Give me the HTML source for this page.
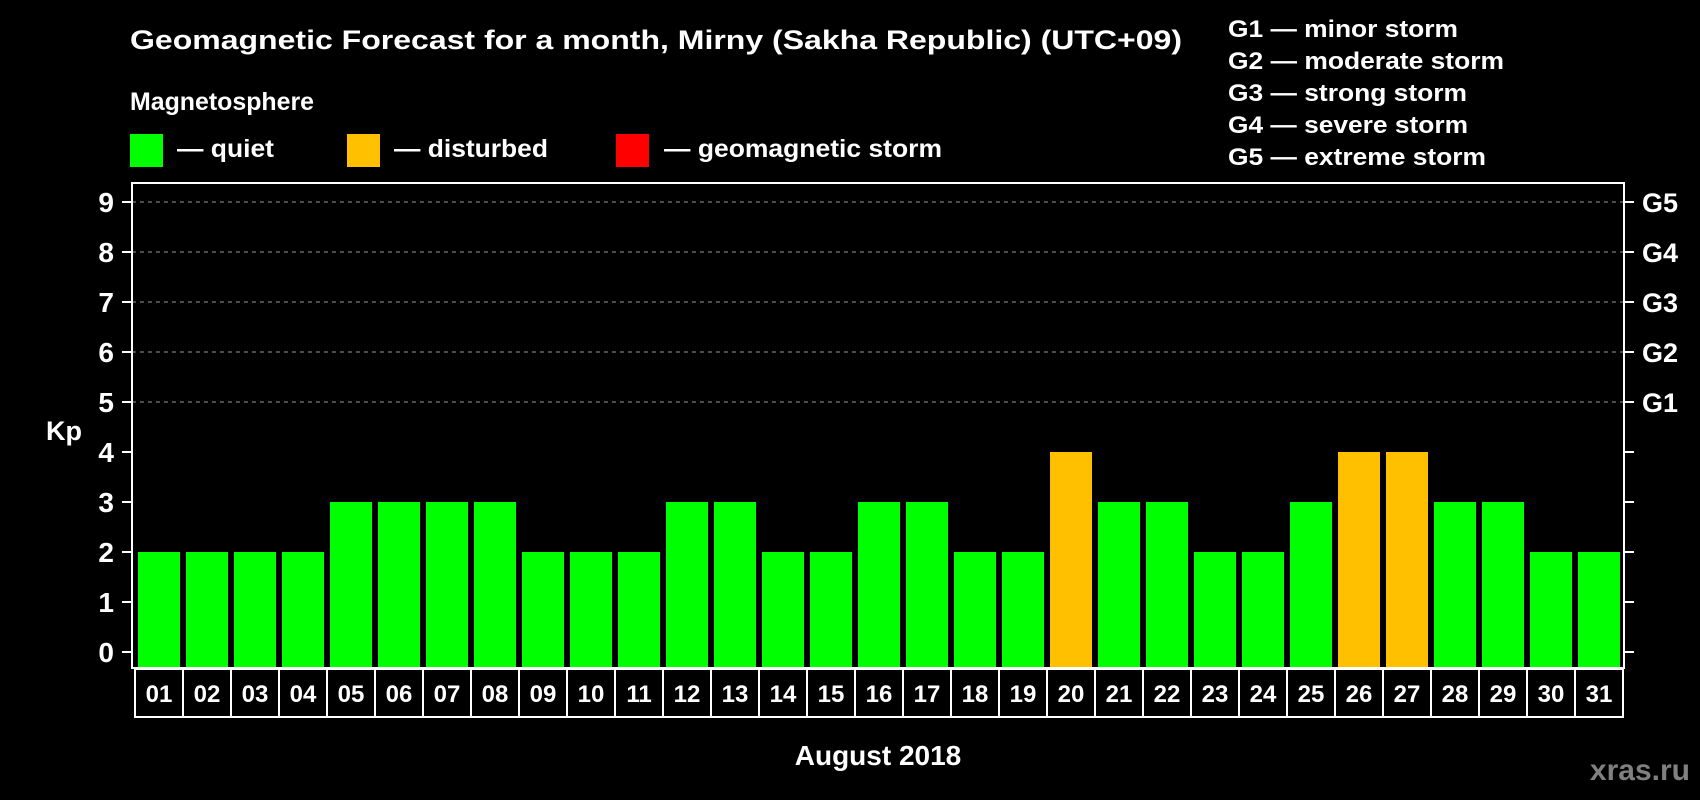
<!DOCTYPE html>
<html><head><meta charset="utf-8"><style>
html,body{margin:0;padding:0;background:#000;}
svg{display:block;font-family:"Liberation Sans",Arial,sans-serif;font-weight:bold;}
</style></head><body>
<svg id="chart" width="1700" height="800" viewBox="0 0 1700 800">
<rect width="1700" height="800" fill="#000"/>
<text x="130" y="49" fill="#fff" font-size="27" textLength="1052" lengthAdjust="spacingAndGlyphs">Geomagnetic Forecast for a month, Mirny (Sakha Republic) (UTC+09)</text>
<text x="130" y="110" fill="#fff" font-size="25" textLength="184" lengthAdjust="spacingAndGlyphs">Magnetosphere</text>
<g>
<rect x="130" y="134" width="33" height="33" fill="#00ff00"/>
<text x="177" y="157" fill="#fff" font-size="25" textLength="97" lengthAdjust="spacingAndGlyphs">— quiet</text></g>
<g>
<rect x="347" y="134" width="33" height="33" fill="#ffc000"/>
<text x="394" y="157" fill="#fff" font-size="25" textLength="154" lengthAdjust="spacingAndGlyphs">— disturbed</text></g>
<g>
<rect x="616" y="134" width="33" height="33" fill="#ff0000"/>
<text x="664" y="157" fill="#fff" font-size="25" textLength="278" lengthAdjust="spacingAndGlyphs">— geomagnetic storm</text></g>
<g fill="#fff" font-size="24">
<text x="1228" y="37" textLength="230" lengthAdjust="spacingAndGlyphs">G1 — minor storm</text>
<text x="1228" y="69" textLength="276" lengthAdjust="spacingAndGlyphs">G2 — moderate storm</text>
<text x="1228" y="101" textLength="239" lengthAdjust="spacingAndGlyphs">G3 — strong storm</text>
<text x="1228" y="133" textLength="240" lengthAdjust="spacingAndGlyphs">G4 — severe storm</text>
<text x="1228" y="165" textLength="258" lengthAdjust="spacingAndGlyphs">G5 — extreme storm</text>
</g>
<g id="grid"></g>
<g id="bars"></g>
<rect x="132" y="183" width="1492" height="485" fill="none" stroke="#fff" stroke-width="2"/>
<g id="axes"></g>
<g id="days"></g>
<text x="46" y="440" fill="#fff" font-size="27">Kp</text>
<text x="878" y="765" fill="#fff" font-size="28" text-anchor="middle">August 2018</text>
<text x="1690" y="780" fill="#808080" font-size="30" text-anchor="end">xras.ru</text>
</svg>
<script>
const days = ["01","02","03","04","05","06","07","08","09","10","11","12","13","14","15","16","17","18","19","20","21","22","23","24","25","26","27","28","29","30","31"];
const kpValues = [2,2,2,2,3,3,3,3,2,2,2,3,3,2,2,3,3,2,2,4,3,3,2,2,3,4,4,3,3,2,2];
const yTicks = [0,1,2,3,4,5,6,7,8,9];
const gridLevels = [5,6,7,8,9];
const stormLabels = ["G1","G2","G3","G4","G5"];

const NS = "http://www.w3.org/2000/svg";
const plotLeft = 132, plotRight = 1624, plotBottom = 668;
const y = v => 652 - v * 50;
const boxX = i => 135 + i * 48;
function mk(tag, attrs, parent, txt) {
  const e = document.createElementNS(NS, tag);
  for (const k in attrs) e.setAttribute(k, attrs[k]);
  if (txt !== undefined) e.textContent = txt;
  parent.appendChild(e);
  return e;
}
const grid = document.getElementById('grid');
gridLevels.forEach(v => {
  const l = mk('line', {x1: plotLeft, x2: plotRight, y1: y(v), y2: y(v), stroke: '#999', 'stroke-width': 1, 'stroke-dasharray': '4,4'}, grid);
  
  
});
const bars = document.getElementById('bars');
kpValues.forEach((v, i) => {
  const color = v >= 5 ? '#ff0000' : (v >= 4 ? '#ffc000' : '#00ff00');
  const r = mk('rect', {x: boxX(i) + 3, y: y(v), width: 42, height: plotBottom - 1 - y(v), fill: color}, bars);
  
  
});
const axes = document.getElementById('axes');
yTicks.forEach(v => {
  const t1 = mk('line', {x1: 122, x2: plotLeft, y1: y(v), y2: y(v), stroke: '#fff', 'stroke-width': 2}, axes);
  
  
  const t2 = mk('line', {x1: plotRight, x2: 1634, y1: y(v), y2: y(v), stroke: '#fff', 'stroke-width': 2}, axes);
  
  
  const lb = mk('text', {x: 114, y: y(v) + 10, fill: '#fff', 'font-size': 28, 'text-anchor': 'end'}, axes, String(v));
  
  
});
stormLabels.forEach((g, i) => {
  const lb = mk('text', {x: 1642, y: y(5 + i) + 10, fill: '#fff', 'font-size': 27}, axes, g);
  
  
});
const dg = document.getElementById('days');
days.forEach((d, i) => {
  const b = mk('rect', {x: boxX(i), y: 669, width: 48, height: 48, fill: 'none', stroke: '#fff', 'stroke-width': 2}, dg);
  
  
  const t = mk('text', {x: boxX(i) + 24, y: 702, fill: '#fff', 'font-size': 24, 'text-anchor': 'middle'}, dg, d);
  
  
});
</script>
</body></html>
